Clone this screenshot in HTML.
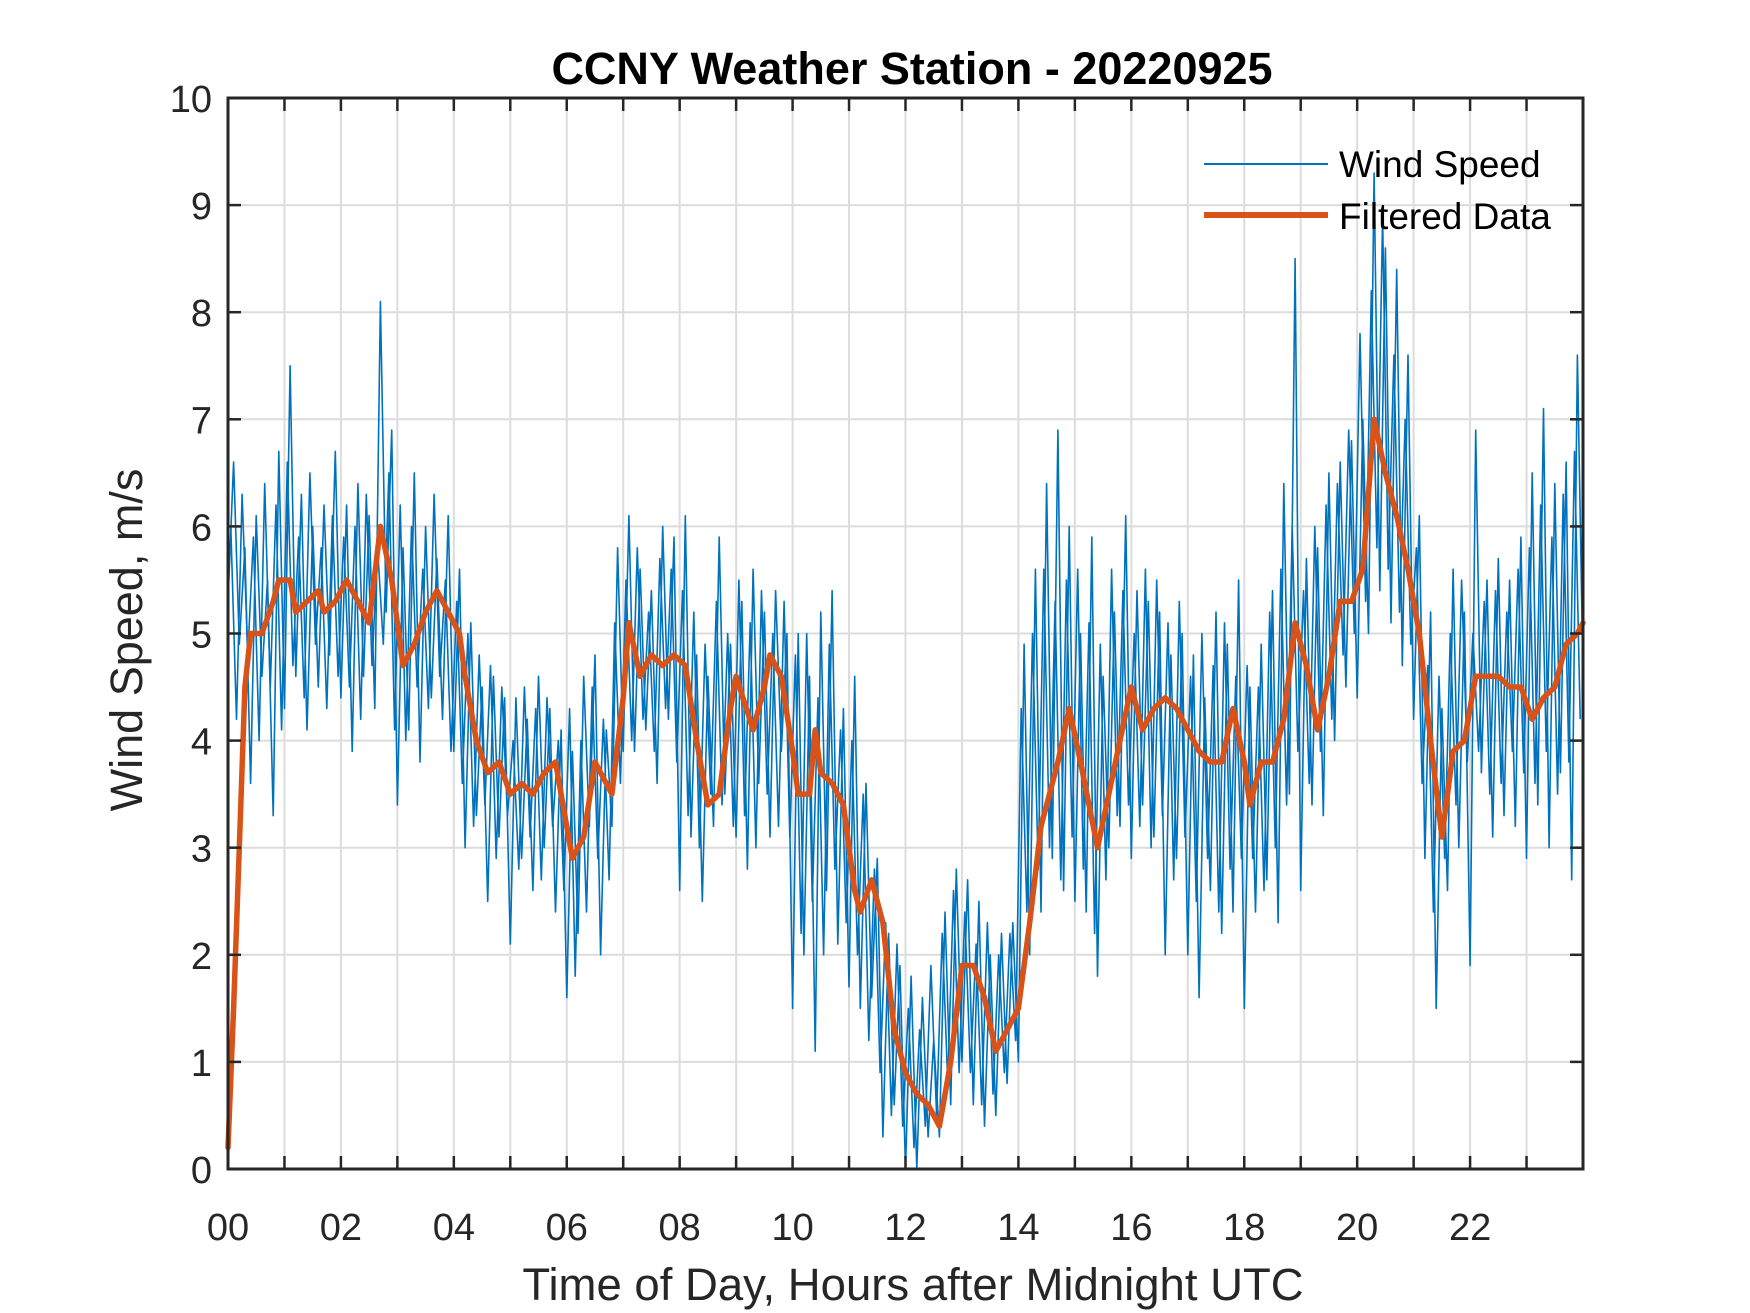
<!DOCTYPE html>
<html><head><meta charset="utf-8"><style>
html,body{margin:0;padding:0;background:#fff;}
svg{display:block;font-family:"Liberation Sans",Arial,sans-serif;}
</style></head><body>
<svg id="chart" width="1750" height="1313" viewBox="0 0 1750 1313" xmlns="http://www.w3.org/2000/svg">
<rect x="0" y="0" width="1750" height="1313" fill="#fff"/>
<g id="grid"></g>
<g id="series"></g>
<g id="axes"></g>
<text x="912" y="84" text-anchor="middle" font-size="45" font-weight="bold" fill="#000">CCNY Weather Station - 20220925</text>
<text x="913" y="1300" text-anchor="middle" font-size="45.5" fill="#262626">Time of Day, Hours after Midnight UTC</text>
<text transform="translate(142,640) rotate(-90)" text-anchor="middle" font-size="45" fill="#262626">Wind Speed, m/s</text>
<g>
<line x1="1204" y1="164" x2="1328" y2="164" stroke="#0072BD" stroke-width="2"/>
<text x="1339" y="177" font-size="37" fill="#000">Wind Speed</text>
<line x1="1204" y1="215" x2="1328" y2="215" stroke="#D95319" stroke-width="6"/>
<text x="1339" y="229" font-size="37" fill="#000">Filtered Data</text>
</g>
</svg>
<script>
const xTickLabels=["00","02","04","06","08","10","12","14","16","18","20","22"];
const yTickLabels=[0,1,2,3,4,5,6,7,8,9,10];
const rawStep=0.1;
const rawValuesA=[
5.3,6.6,4.9,5.8,3.6,6.1,4.6,5.5,3.3,6.7,
4.3,7.5,4.6,6.3,4.1,6.0,4.5,6.2,4.8,6.7,
4.4,6.2,3.9,6.4,4.6,6.1,4.3,8.1,5.2,6.9,
3.4,5.8,4.1,6.5,3.8,6.0,4.4,5.7,4.2,6.1,
3.9,5.6,3.0,5.1,3.3,4.5,2.5,4.6,3.1,4.4,
2.1,4.4,2.9,4.2,2.6,4.6,3.0,4.3,2.4,4.1,
1.6,3.9,2.2,4.6,3.2,4.8,2.0,4.1,3.2,5.8,
3.9,6.1,3.9,5.6,4.1,5.4,3.6,6.0,4.2,5.9,
2.6,6.1,3.1,4.8,2.5,4.6,3.2,5.9,3.5,4.9,
3.1,5.3,2.8,5.6,3.6,5.2,3.1,5.4,3.9,5.0,
1.5,5.0,2.0,4.6,1.1,5.2,2.6,5.4,2.1,4.3,
1.7,4.6,1.5,3.6,1.6,2.9,0.3,2.2,0.6,1.9,
0.0,1.8,0.0,1.6,0.3,1.2,0.3,2.4,0.6,2.8,
1.0,2.7,0.6,2.5,0.4,2.0,0.5,2.2,0.8,2.3,
1.0,4.9,2.0,5.6,2.4,6.4,2.9,6.9,2.6,6.0,
2.5,5.0,2.4,5.9,1.8,4.6,3.0,5.2,3.2,6.1,
2.9,5.4,3.4,5.3,3.1,5.2,2.0,4.8,2.9,5.0,
2.0,4.8,1.6,4.4,2.6,5.2,2.2,4.9,2.4,5.5,
1.5,4.5,2.4,4.9,2.7,5.4,2.3,6.4,3.5,8.5,
2.6,5.7,3.4,5.8,3.3,6.5,4.0,6.6,4.5,6.8,
4.4,7.0,5.0,9.3,5.4,8.6,5.1,8.4,4.7,7.6,
4.2,6.1,2.9,5.2,1.5,4.3,2.6,5.6,3.0,5.2,
1.9,6.9,3.7,5.5,3.1,5.7,3.3,5.5,3.2,5.9,
2.9,6.5,3.4,7.1,3.0,6.4,3.7,6.6,2.7,7.6,
4.6];
const rawValuesB=[
6.0,4.2,6.3,4.8,5.9,4.0,6.4,4.5,6.2,4.1,
6.6,4.7,5.9,4.4,6.5,4.9,5.8,4.3,6.1,4.6,
5.9,4.5,6.0,4.2,6.3,4.7,5.8,4.9,6.5,4.1,
6.2,4.0,6.0,4.5,5.6,4.3,6.3,4.6,5.5,3.9,
5.3,3.6,5.0,3.2,4.8,3.4,4.7,2.9,4.5,3.3,
4.0,2.8,4.5,3.1,4.3,2.7,4.4,3.2,4.0,2.6,
4.3,1.8,4.0,2.4,4.5,2.9,4.2,2.7,5.1,3.6,
5.5,4.0,5.8,4.2,5.2,3.9,5.7,4.3,5.6,3.8,
5.4,3.3,5.2,3.0,4.9,3.5,5.3,3.4,5.0,3.2,
5.5,3.3,5.1,3.0,5.4,3.5,5.0,3.2,5.3,3.1,
4.8,2.2,5.0,2.5,4.4,2.0,4.9,2.8,4.1,2.3,
4.0,2.0,3.5,1.2,2.8,0.9,2.3,0.5,2.1,0.4,
1.5,0.2,1.3,0.4,1.9,0.5,2.2,0.8,2.6,0.9,
2.4,0.9,2.1,0.6,2.3,0.7,2.0,0.9,2.2,1.2,
4.3,2.4,5.0,2.8,5.6,3.0,5.3,2.7,5.5,3.1,
5.6,2.8,5.1,2.2,4.9,2.7,5.6,3.3,5.4,3.4,
5.0,3.2,5.6,3.0,5.5,3.3,5.1,2.7,5.3,3.1,
4.6,2.5,5.0,2.9,4.7,2.4,5.1,2.8,4.6,2.9,
4.7,2.9,4.5,2.6,5.2,3.0,5.6,3.4,6.0,3.9,
5.4,3.6,6.0,3.9,6.2,4.2,6.4,4.8,6.9,5.0,
7.8,5.3,8.2,5.8,8.9,5.6,7.6,5.2,7.0,4.9,
5.8,3.6,4.7,2.4,4.6,2.9,5.0,3.4,5.5,3.8,
5.0,3.9,5.3,3.5,5.4,3.6,5.2,3.9,5.6,3.7,
5.8,3.6,6.2,3.9,5.9,3.5,6.3,3.8,6.7,4.2];
const filtHours=[0,0.1,0.2,0.3,0.4,0.6,0.8,0.9,1.1,1.2,1.4,1.6,1.7,1.9,2.1,2.3,2.5,2.7,2.9,3.1,3.3,3.5,3.7,3.9,4.1,4.2,4.4,4.6,4.8,5.0,5.2,5.4,5.6,5.8,5.9,6.1,6.3,6.5,6.8,7.0,7.1,7.3,7.5,7.7,7.9,8.1,8.3,8.5,8.7,8.9,9.0,9.3,9.5,9.6,9.8,10.0,10.1,10.3,10.4,10.5,10.7,10.9,11.1,11.2,11.4,11.6,11.8,12.0,12.2,12.4,12.6,12.8,13.0,13.2,13.4,13.6,13.8,14.0,14.2,14.4,14.7,14.9,15.1,15.4,15.6,15.8,16.0,16.2,16.4,16.6,16.8,17.0,17.2,17.4,17.6,17.8,18.0,18.1,18.3,18.5,18.7,18.9,19.1,19.3,19.5,19.7,19.9,20.1,20.3,20.5,20.7,20.9,21.1,21.3,21.5,21.7,21.9,22.1,22.3,22.5,22.7,22.9,23.1,23.3,23.5,23.7,23.9,24];
const filtValues=[0.2,1.5,3.0,4.5,5.0,5.0,5.3,5.5,5.5,5.2,5.3,5.4,5.2,5.3,5.5,5.3,5.1,6.0,5.5,4.7,4.9,5.2,5.4,5.2,5.0,4.6,4.0,3.7,3.8,3.5,3.6,3.5,3.7,3.8,3.5,2.9,3.1,3.8,3.5,4.4,5.1,4.6,4.8,4.7,4.8,4.7,4.0,3.4,3.5,4.3,4.6,4.1,4.5,4.8,4.6,3.9,3.5,3.5,4.1,3.7,3.6,3.4,2.6,2.4,2.7,2.3,1.3,0.9,0.7,0.6,0.4,1.0,1.9,1.9,1.6,1.1,1.3,1.5,2.3,3.2,3.8,4.3,3.8,3.0,3.5,4.0,4.5,4.1,4.3,4.4,4.3,4.1,3.9,3.8,3.8,4.3,3.8,3.4,3.8,3.8,4.2,5.1,4.7,4.1,4.6,5.3,5.3,5.6,7.0,6.5,6.1,5.6,5.0,4.0,3.1,3.9,4.0,4.6,4.6,4.6,4.5,4.5,4.2,4.4,4.5,4.9,5.0,5.1];

const L=228,R=1583,T=98,B=1169;
const X=h=>L+(R-L)*h/24;
const Y=v=>B-(B-T)*v/10;
const NS="http://www.w3.org/2000/svg";
function mk(tag,parent,attrs){const e=document.createElementNS(NS,tag);for(const k in attrs)e.setAttribute(k,attrs[k]);parent.appendChild(e);return e;}
const grid=document.getElementById('grid'),axes=document.getElementById('axes'),series=document.getElementById('series');
for(let h=1;h<24;h++){
  const g=mk('line',grid,{x1:X(h),x2:X(h),y1:T,y2:B,stroke:'#dcdcdc','stroke-width':2});
  
  
  const t1=mk('line',axes,{x1:X(h),x2:X(h),y1:B,y2:B-13,stroke:'#262626','stroke-width':2.5});
  
  
  const t2=mk('line',axes,{x1:X(h),x2:X(h),y1:T,y2:T+13,stroke:'#262626','stroke-width':2.5});
  
  
}
for(let v=1;v<10;v++){
  const g=mk('line',grid,{x1:L,x2:R,y1:Y(v),y2:Y(v),stroke:'#dcdcdc','stroke-width':2});
  
  
  const t1=mk('line',axes,{x1:L,x2:L+13,y1:Y(v),y2:Y(v),stroke:'#262626','stroke-width':2.5});
  
  
  const t2=mk('line',axes,{x1:R,x2:R-13,y1:Y(v),y2:Y(v),stroke:'#262626','stroke-width':2.5});
  
  
}
xTickLabels.forEach((s,i)=>{
  const t=mk('text',axes,{x:X(i*2),y:1240,'text-anchor':'middle','font-size':38,fill:'#262626'});
  t.textContent=s;
  
  
});
yTickLabels.forEach(v=>{
  const t=mk('text',axes,{x:212,y:Y(v)+14,'text-anchor':'end','font-size':38,fill:'#262626'});
  t.textContent=v;
  
  
});
const frame=mk('rect',axes,{x:L,y:T,width:R-L,height:B-T,fill:'none',stroke:'#262626','stroke-width':3});


const pa=rawValuesA.map((v,i)=>X(Math.min(24,i*rawStep)).toFixed(1)+','+Y(v).toFixed(1)).join(' ');
const rawA=mk('polyline',series,{points:pa,fill:'none',stroke:'#0072BD','stroke-width':1.6,'stroke-linejoin':'round'});


const pb=rawValuesB.map((v,i)=>X(Math.min(24,i*rawStep+rawStep/2)).toFixed(1)+','+Y(v).toFixed(1)).join(' ');
const rawB=mk('polyline',series,{points:pb,fill:'none',stroke:'#0072BD','stroke-width':1.6,'stroke-linejoin':'round'});


const fp=filtValues.map((v,i)=>X(filtHours[i]).toFixed(1)+','+Y(v).toFixed(1)).join(' ');
const filt=mk('polyline',series,{points:fp,fill:'none',stroke:'#D95319','stroke-width':5.5,'stroke-linejoin':'round','stroke-linecap':'round'});


</script>
</body></html>
